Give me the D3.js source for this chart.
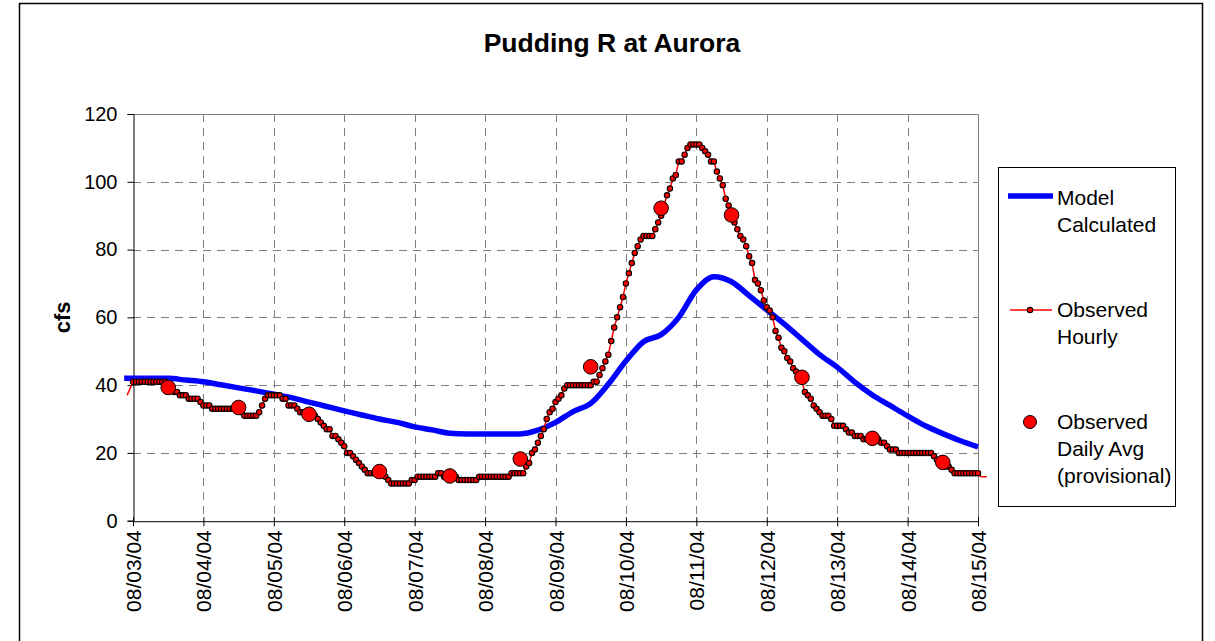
<!DOCTYPE html>
<html>
<head>
<meta charset="utf-8">
<script src="https://cdn.jsdelivr.net/npm/d3@7"></script>
<style>
  body { margin: 0; background: #fff; }
  svg { display: block; font-family: "Liberation Sans", Arial, sans-serif; }
</style>
</head>
<body>
<svg id="chart" width="1215" height="641"></svg>
<script>
// Pudding R at Aurora - model vs observed flow, Aug 3-15 2004

let chartTitle = "Pudding R at Aurora";
let yLabel = "cfs";
let yTicks = [0, 20, 40, 60, 80, 100, 120];
let dayLabels = ["08/03/04", "08/04/04", "08/05/04", "08/06/04", "08/07/04", "08/08/04",
  "08/09/04", "08/10/04", "08/11/04", "08/12/04", "08/13/04", "08/14/04", "08/15/04"];

// observed hourly, one value per hour starting 08/03/04 00:00 (24 per row)
let hourlyCfs = [
  41,41,41,41,41,41,41,41,41,41,41,41,40,39,38,38,37,37,37,36,36,36,36,35,
  34,34,34,33,33,33,33,33,33,33,33,33,33,32,31,31,31,31,31,32,34,36,37,37,
  37,37,37,36,36,34,34,34,33,32,32,31,31,31,31,30,29,28,27,27,25,25,24,23,
  22,20,20,19,18,17,16,15,14,14,14,14,14,14,13,12,11,11,11,11,11,11,11,12,
  12,13,13,13,13,13,13,13,14,14,13,13,13,13,13,12,12,12,12,12,12,12,13,13,
  13,13,13,13,13,13,13,13,13,14,14,14,14,14,16,17,20,21,23,25,27,30,32,33,
  35,36,37,39,40,40,40,40,40,40,40,40,40,41,41,43,45,47,49,53,57,60,63,66,
  70,73,76,79,81,83,84,84,84,84,86,88,90,93,96,98,101,102,106,106,108,110,111,111,
  111,111,110,109,108,106,106,103,101,99,95,93,90,88,86,84,83,81,78,76,71,70,68,65,
  63,62,60,56,54,51,50,48,47,45,44,42,41,38,37,36,34,33,32,31,31,31,30,28,
  28,28,28,27,26,26,25,25,25,24,24,24,24,24,24,23,23,22,21,21,21,20,20,20,
  20,20,20,20,20,20,20,20,20,19,18,17,17,16,16,15,14,14,14,14,14,14,14,14,
  14
];
// line-only points just outside the axis range (hour offsets from 08/03 00:00)
let hourlyEdgeHours = [-2, 289, 290, 291];
let hourlyEdgeCfs = [37, 13, 13, 13];

// observed daily average, plotted at noon
let dailyAvgCfs = [39.3, 33.4, 31.4, 14.5, 13.2, 18.2, 45.4, 92.2, 90.2, 42.3, 24.3, 17.2];

// model calculated, every 6 hours from 08/03/04 00:00
let modelCfs = [
  42, 42, 42, 41.5, 41, 40.1, 39.2, 38.3,
  37.3, 36.3, 35, 33.7, 32.4, 31.2, 30, 29,
  27.7, 26.8, 25.8, 25.6, 25.6, 25.6, 25.6, 26.7,
  29, 32.2, 34.6, 40.3, 47.1, 52.8, 54.9, 60,
  68.1, 72, 70.5, 66.4, 62.2, 58, 53.5, 49,
  45.3, 40.9, 37.1, 34, 30.9, 28, 25.7, 23.6,
  21.8
];
let modelStepHours = 6;
let modelLeadHours = -3;
let modelLeadCfs = 42;

let svg = d3.select("#chart");
let plot = {left: 133, right: 978, top: 114, bottom: 520.7};

let startDate = new Date(2004, 7, 3);
let endDate = new Date(2004, 7, 15);
let hourAt = function(h) { return d3.timeMinute.offset(startDate, Math.round(h * 60)); };

let x = d3.scaleTime().domain([startDate, endDate]).range([plot.left, plot.right]);
let y = d3.scaleLinear().domain([0, 120]).range([plot.bottom, plot.top]);
let dayTicks = d3.timeDay.range(startDate, d3.timeDay.offset(endDate, 1));

// outer chart frame
svg.append("rect")
  .attr("x", 19.5).attr("y", 3.5)
  .attr("width", 1183).attr("height", 660)
  .attr("fill", "#fff").attr("stroke", "#000").attr("stroke-width", 1.5);

// grid
let grid = svg.append("g").attr("stroke", "#808080").attr("stroke-width", 1)
  .attr("stroke-dasharray", "8,6");
grid.selectAll("line.h")
  .data(yTicks.filter(function(v) { return v > 0 && v < 120; }))
  .enter().append("line")
  .attr("x1", plot.left).attr("x2", plot.right)
  .attr("y1", function(d) { return Math.round(y(d)) + 0.5; })
  .attr("y2", function(d) { return Math.round(y(d)) + 0.5; });
grid.selectAll("line.v")
  .data(dayTicks.slice(1, -1))
  .enter().append("line")
  .attr("y1", plot.top).attr("y2", plot.bottom)
  .attr("x1", function(d) { return Math.round(x(d)) + 0.5; })
  .attr("x2", function(d) { return Math.round(x(d)) + 0.5; });

// plot border (top and right, grey)
svg.append("path")
  .attr("d", "M" + plot.left + "," + (plot.top + 0.5) + "H" + (plot.right + 0.5) + "V" + plot.bottom)
  .attr("fill", "none").attr("stroke", "#808080").attr("stroke-width", 1);

// axes
let yAxis = d3.axisLeft(y).tickValues(yTicks).tickSize(6).tickPadding(10);
let yG = svg.append("g").attr("transform", "translate(" + (plot.left + 0.5) + ",0)").call(yAxis);
yG.select(".domain").attr("stroke", "#000");
yG.selectAll(".tick line").attr("stroke", "#000");
yG.selectAll(".tick text").attr("font-size", 20).attr("fill", "#000")
  .attr("font-family", "Liberation Sans, Arial, sans-serif");

let xAxis = d3.axisBottom(x).tickValues(dayTicks)
  .tickFormat(function(d, i) { return dayLabels[i]; })
  .tickSize(5).tickSizeOuter(0);
let xG = svg.append("g").attr("transform", "translate(0," + (plot.bottom + 0.5) + ")").call(xAxis);
xG.select(".domain").attr("stroke", "#000");
xG.selectAll(".tick line").attr("stroke", "#000").attr("y1", -4);
xG.selectAll(".tick text")
  .attr("font-size", 21).attr("fill", "#000")
  .attr("font-family", "Liberation Sans, Arial, sans-serif")
  .attr("text-anchor", "end")
  .attr("transform", "rotate(-90)")
  .attr("x", -9).attr("y", 0).attr("dy", "0.36em");

// model calculated
let modelPts = [{h: modelLeadHours, v: modelLeadCfs}].concat(
  modelCfs.map(function(v, i) { return {h: i * modelStepHours, v: v}; }));
let line = d3.line()
  .x(function(d) { return x(hourAt(d.h)); })
  .y(function(d) { return y(d.v); });
svg.append("path")
  .datum(modelPts)
  .attr("d", line.curve(d3.curveMonotoneX))
  .attr("fill", "none").attr("stroke", "#0000ff").attr("stroke-width", 5.5)
  .attr("stroke-linejoin", "round");

// observed hourly
let hourlyPts = hourlyCfs.map(function(v, i) { return {h: i, v: v}; });
let edgePts = hourlyEdgeHours.map(function(h, i) { return {h: h, v: hourlyEdgeCfs[i]}; });
let hourlyLinePts = [edgePts[0]].concat(hourlyPts, edgePts.slice(1));
svg.append("path")
  .datum(hourlyLinePts)
  .attr("d", d3.line()
    .x(function(d) { return x(hourAt(d.h)); })
    .y(function(d) { return y(d.v); }))
  .attr("fill", "none").attr("stroke", "#ff0000").attr("stroke-width", 1.5);
svg.append("g").selectAll("circle")
  .data(hourlyPts)
  .enter().append("circle")
  .attr("cx", function(d) { return x(hourAt(d.h)); })
  .attr("cy", function(d) { return y(d.v); })
  .attr("r", 2.7)
  .attr("fill", "#ff0000").attr("stroke", "#000").attr("stroke-width", 1.1);

// observed daily average
svg.append("g").selectAll("circle")
  .data(dailyAvgCfs)
  .enter().append("circle")
  .attr("cx", function(d, i) { return x(hourAt(i * 24 + 12)); })
  .attr("cy", function(d) { return y(d); })
  .attr("r", 7.3)
  .attr("fill", "#ff0000").attr("stroke", "#000").attr("stroke-width", 1);

// title and axis label
svg.append("text")
  .attr("x", 612).attr("y", 52)
  .attr("text-anchor", "middle")
  .attr("font-size", 26.5).attr("font-weight", "bold")
  .text(chartTitle);
svg.append("text")
  .attr("transform", "translate(70," + ((plot.top + plot.bottom) / 2) + ") rotate(-90)")
  .attr("text-anchor", "middle")
  .attr("font-size", 22).attr("font-weight", "bold")
  .text(yLabel);

// legend
let legend = svg.append("g");
legend.append("rect")
  .attr("x", 998.5).attr("y", 167.5).attr("width", 177).attr("height", 339)
  .attr("fill", "#fff").attr("stroke", "#000").attr("stroke-width", 1);

legend.append("line")
  .attr("x1", 1008).attr("x2", 1053).attr("y1", 196).attr("y2", 196)
  .attr("stroke", "#0000ff").attr("stroke-width", 5.5);
legend.append("line")
  .attr("x1", 1010).attr("x2", 1052).attr("y1", 310).attr("y2", 310)
  .attr("stroke", "#ff0000").attr("stroke-width", 1.5);
legend.append("circle")
  .attr("cx", 1030).attr("cy", 310).attr("r", 2.7)
  .attr("fill", "#ff0000").attr("stroke", "#000").attr("stroke-width", 1.1);
legend.append("circle")
  .attr("cx", 1030).attr("cy", 422).attr("r", 6.5)
  .attr("fill", "#ff0000").attr("stroke", "#000").attr("stroke-width", 1);

let legendText = [
  {y: 205, lines: ["Model", "Calculated"]},
  {y: 317, lines: ["Observed", "Hourly"]},
  {y: 429, lines: ["Observed", "Daily Avg", "(provisional)"]}
];
legendText.forEach(function(item) {
  let t = legend.append("text")
    .attr("x", 1057).attr("y", item.y)
    .attr("font-size", 21).attr("fill", "#000");
  item.lines.forEach(function(s, i) {
    t.append("tspan").attr("x", 1057).attr("dy", i === 0 ? 0 : 26.8).text(s);
  });
});
</script>
</body>
</html>
